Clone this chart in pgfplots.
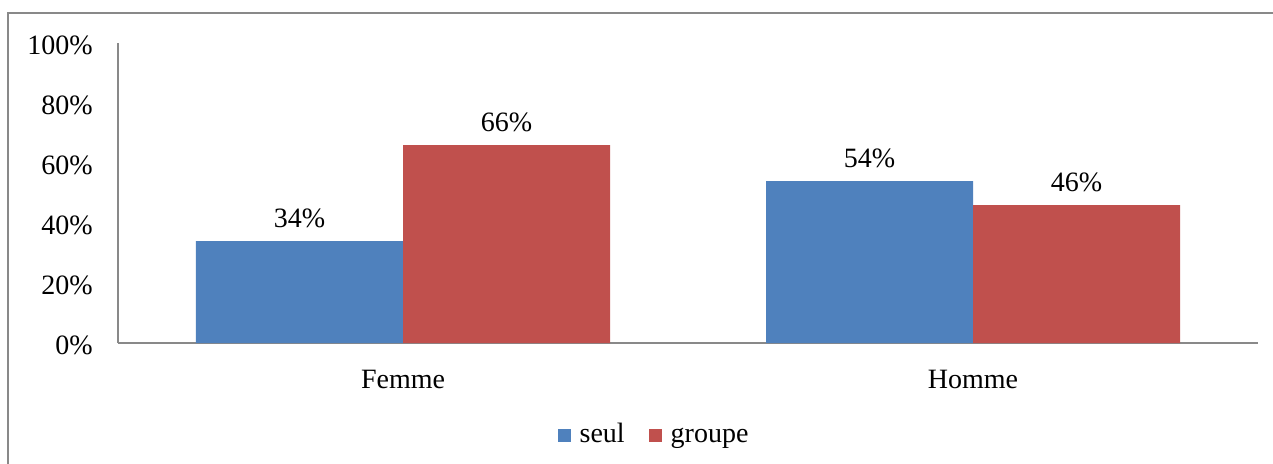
\documentclass[border=0pt]{standalone}
\usepackage{fontspec}
\setmainfont{Liberation Serif}
\usepackage{pgfplots}
\pgfplotsset{compat=1.18}
\definecolor{seul}{HTML}{4F81BD}
\definecolor{groupe}{HTML}{C0504D}
\definecolor{axgray}{HTML}{898989}
\begin{document}
\begin{tikzpicture}
\begin{axis}[
  scale only axis, width=570pt, height=150pt,
  ybar, bar width=103.5pt,
  xmin=-0.5, xmax=1.5, ymin=0, ymax=100,
  xtick={0,1}, xticklabels={Femme,Homme},
  ytick={0,20,...,100}, yticklabels={0\%,20\%,40\%,60\%,80\%,100\%},
  axis lines=left, axis line style={-, draw=axgray, line width=1pt},
  major tick length=0pt,
  font=\fontsize{14}{17}\selectfont,
  yticklabel style={anchor=east, inner sep=0pt, xshift=-12.5pt, yshift=-1pt},
  xticklabel style={anchor=north, inner sep=0pt, yshift=-13.5pt},
  nodes near coords={\pgfmathprintnumber[assume math mode=true]{\pgfplotspointmeta}\%},
  nodes near coords style={anchor=south, inner sep=0pt, yshift=6.5pt, text=black},
  clip=false,
  legend columns=2,
  legend style={at={(0.4711,-0.315)}, anchor=center, draw=none, fill=none,
    nodes={text depth=0.25em, text height=0.7em, yshift=-1pt},
    /tikz/every even column/.append style={column sep=10pt}},
  legend image code/.code={\fill[#1] (0pt,-3.25pt) rectangle (6.5pt,3.25pt); \path (9pt,0pt);},
]
\addplot[bar shift=-51.75pt, fill=seul, draw=none] coordinates {(0,34) (1,54)};
\addplot[bar shift=51.75pt, fill=groupe, draw=none] coordinates {(0,66) (1,46)};
\legend{seul,groupe}
\end{axis}
\draw[axgray, line width=1pt] ([xshift=-55pt,yshift=-70pt]current axis.south west) -- ([xshift=-55pt,yshift=15pt]current axis.north west) -- ([xshift=20pt,yshift=15pt]current axis.north east);
\pgfresetboundingbox
\path[use as bounding box] ([xshift=-59pt,yshift=-60pt]current axis.south west) rectangle ([xshift=7.5pt,yshift=21.5pt]current axis.north east);
\end{tikzpicture}
\end{document}
